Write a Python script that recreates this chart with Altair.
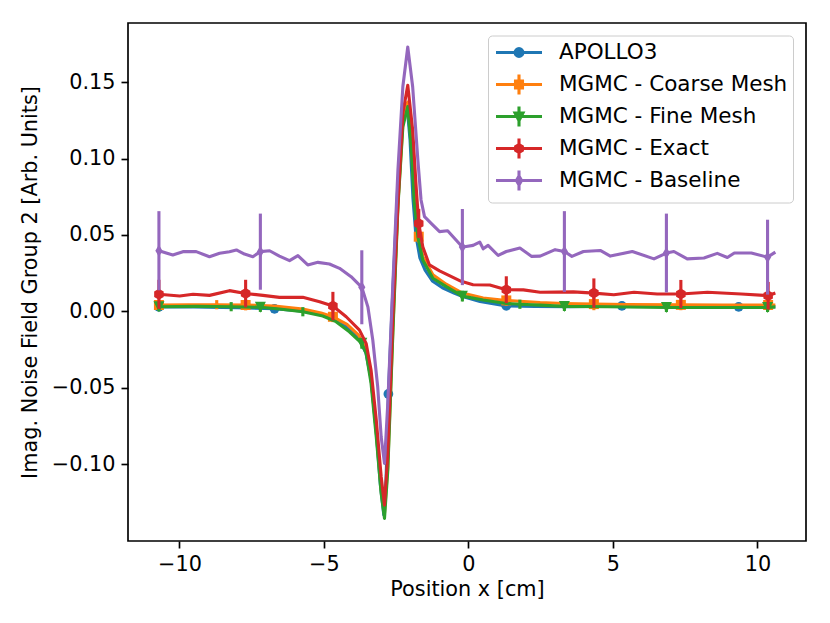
import altair as alt
import pandas as pd

names = ["APOLLO3", "MGMC - Coarse Mesh", "MGMC - Fine Mesh", "MGMC - Exact", "MGMC - Baseline"]
colors = ["#1f77b4", "#ff7f0e", "#2ca02c", "#d62728", "#9467bd"]

# ---- APOLLO3 ----
apollo_x = [-10.71, -9.5, -8.0, -6.71, -5.7, -5.0, -4.5, -4.1, -3.8, -3.55, -3.37, -3.2, -3.05, -2.93,
            -2.85, -2.77, -2.62, -2.45, -2.28, -2.13, -2.02, -1.92, -1.82, -1.68, -1.5, -1.25, -0.9,
            -0.5, -0.2, 0.4, 1.31, 2.3, 3.5, 5.31, 7.0, 9.35, 10.62]
apollo_y = [0.0030, 0.0030, 0.0025, 0.0017, 0.0002, -0.0025, -0.0058, -0.0115, -0.0175, -0.0270,
            -0.0440, -0.0760, -0.1130, -0.1330, -0.1100, -0.0540, 0.0120, 0.0800, 0.1250, 0.1360,
            0.1120, 0.0740, 0.0500, 0.0350, 0.0270, 0.0200, 0.0155, 0.0120, 0.0098, 0.0065, 0.0036,
            0.0033, 0.0031, 0.0036, 0.0031, 0.0030, 0.0030]
apollo_mx = [-10.71, -6.71, -2.77, 1.31, 5.31, 9.35]
apollo_my = [0.0030, 0.0017, -0.0540, 0.0036, 0.0036, 0.0030]

# ---- Coarse mesh ----
coarse_x = [-10.71, -9.7, -8.71, -7.71, -6.71, -5.73, -5.1, -4.69, -4.2, -3.8, -3.54, -3.37, -3.19,
            -3.02, -2.905, -2.79, -2.62, -2.44, -2.27, -2.10, -1.98, -1.87, -1.72, -1.58, -1.23,
            -0.77, -0.21, 0.51, 1.31, 2.48, 3.3, 4.34, 5.5, 7.35, 8.8, 10.37, 10.62]
coarse_y = [0.0042, 0.0043, 0.0044, 0.0042, 0.0035, 0.0015, -0.0010, -0.0035, -0.0085, -0.0155,
            -0.0250, -0.0440, -0.0790, -0.1160, -0.1320, -0.1010, -0.0140, 0.0700, 0.1230, 0.1370,
            0.1120, 0.0760, 0.0489, 0.0360, 0.0240, 0.0178, 0.0120, 0.0088, 0.0072, 0.0058, 0.0052,
            0.0048, 0.0045, 0.0043, 0.0042, 0.0042, 0.0042]
coarse_mx = [-10.71, -7.71, -4.69, -1.72, 1.31, 4.34, 7.35, 10.37]
coarse_my = [0.0042, 0.0042, -0.0035, 0.0489, 0.0072, 0.0048, 0.0043, 0.0042]
coarse_ex = [-10.71, -8.71, -7.71, -4.69, -1.72, 1.31, 4.34, 7.35, 10.37]
coarse_ey = [0.0042, 0.0044, 0.0042, -0.0035, 0.0489, 0.0072, 0.0048, 0.0043, 0.0042]
coarse_ee = [0.0035, 0.0030, 0.0035, 0.0035, 0.0040, 0.0035, 0.0040, 0.0035, 0.0035]

# ---- Fine mesh ----
fine_x = [-10.71, -9.42, -8.21, -7.20, -6.54, -5.73, -5.04, -4.58, -4.12, -3.69, -3.54, -3.37, -3.19,
          -3.02, -2.905, -2.79, -2.62, -2.44, -2.27, -2.10, -1.98, -1.87, -1.75, -1.58, -1.23, -0.77,
          -0.21, 0.51, 1.31, 1.78, 2.48, 3.32, 4.80, 6.85, 8.27, 10.35, 10.62]
fine_y = [0.0031, 0.0033, 0.0031, 0.0027, 0.0016, -0.0002, -0.0030, -0.0067, -0.0133, -0.0209,
          -0.0274, -0.0470, -0.0820, -0.1190, -0.1354, -0.1038, -0.0165, 0.0685, 0.1208, 0.1340,
          0.1077, 0.0707, 0.0489, 0.0336, 0.0217, 0.0162, 0.0100, 0.0075, 0.0052, 0.0047, 0.0041,
          0.0033, 0.0031, 0.0026, 0.0026, 0.0026, 0.0030]
fine_mx = [-10.71, -7.20, -3.69, -0.21, 3.32, 6.85, 10.35]
fine_my = [0.0031, 0.0027, -0.0209, 0.0100, 0.0033, 0.0026, 0.0026]
fine_ex = [-10.71, -8.21, -7.20, -5.73, -3.69, -0.21, 1.78, 3.32, 6.85, 10.35]
fine_ey = [0.0031, 0.0031, 0.0027, -0.0002, -0.0209, 0.0100, 0.0047, 0.0033, 0.0026, 0.0026]
fine_ee = [0.0030, 0.0030, 0.0030, 0.0030, 0.0035, 0.0035, 0.0030, 0.0030, 0.0030, 0.0030]

# ---- Exact ----
exact_x = [-10.71, -9.99, -9.53, -8.96, -8.27, -7.71, -7.11, -6.54, -5.73, -5.15, -4.69, -4.23, -3.77,
           -3.54, -3.37, -3.19, -3.02, -2.905, -2.79, -2.62, -2.44, -2.27, -2.10, -1.93, -1.81, -1.72,
           -1.58, -1.35, -1.00, -0.66, -0.25, 0.16, 0.74, 1.31, 1.90, 2.48, 3.63, 4.34, 5.03, 5.73,
           6.53, 7.35, 8.27, 9.44, 10.37, 10.62]
exact_y = [0.0112, 0.0101, 0.0112, 0.0105, 0.0136, 0.0117, 0.0105, 0.0092, 0.0092, 0.0063, 0.0035,
           -0.0035, -0.0122, -0.0209, -0.0383, -0.0710, -0.1080, -0.1267, -0.0930, -0.0056, 0.0707,
           0.1296, 0.1480, 0.1187, 0.0816, 0.0576, 0.0423, 0.0304, 0.0265, 0.0234, 0.0197, 0.0175,
           0.0173, 0.0142, 0.0141, 0.0125, 0.0128, 0.0120, 0.0109, 0.0125, 0.0114, 0.0114, 0.0125,
           0.0114, 0.0103, 0.0120]
exact_mx = [-10.71, -7.71, -4.69, -1.72, 1.31, 4.34, 7.35, 10.37]
exact_my = [0.0112, 0.0117, 0.0035, 0.0576, 0.0142, 0.0120, 0.0114, 0.0103]
exact_ee = [0.0095, 0.0090, 0.0093, 0.0095, 0.0088, 0.0096, 0.0092, 0.0090]

# ---- Baseline ----
base_x = [-10.71, -10.23, -9.88, -9.42, -8.96, -8.61, -8.27, -8.03, -7.75, -7.46, -7.20, -6.88, -6.54,
          -6.19, -5.90, -5.56, -5.21, -4.81, -4.46, -4.06, -3.69, -3.48, -3.31, -3.14, -3.02, -2.905,
          -2.79, -2.62, -2.44, -2.27, -2.10, -1.93, -1.75, -1.64, -1.52, -1.29, -1.00, -0.72, -0.43,
          -0.21, -0.08, 0.16, 0.39, 0.51, 0.68, 1.03, 1.31, 1.78, 2.19, 2.48, 3.00, 3.32, 3.58, 3.98,
          4.56, 4.91, 5.67, 6.42, 6.85, 7.11, 7.57, 8.15, 8.61, 8.96, 9.20, 9.79, 10.35, 10.62]
base_y = [0.0397, 0.0369, 0.0391, 0.0391, 0.0358, 0.0380, 0.0391, 0.0402, 0.0375, 0.0358, 0.0391,
          0.0397, 0.0362, 0.0332, 0.0365, 0.0304, 0.0321, 0.0310, 0.0282, 0.0227, 0.0158, 0.0030,
          -0.0187, -0.0493, -0.0820, -0.0994, -0.0600, 0.0160, 0.0925, 0.1470, 0.1730, 0.1470,
          0.0990, 0.0729, 0.0620, 0.0576, 0.0522, 0.0528, 0.0467, 0.0421, 0.0425, 0.0432, 0.0454,
          0.0410, 0.0432, 0.0366, 0.0392, 0.0415, 0.0360, 0.0362, 0.0404, 0.0392, 0.0360, 0.0392,
          0.0399, 0.0362, 0.0392, 0.0344, 0.0382, 0.0392, 0.0344, 0.0350, 0.0380, 0.0353, 0.0382,
          0.0382, 0.0355, 0.0388]
base_mx = [-10.71, -7.20, -3.69, -0.21, 3.32, 6.85, 10.35]
base_my = [0.0397, 0.0391, 0.0158, 0.0421, 0.0392, 0.0382, 0.0355]
base_ee = [0.0259, 0.0249, 0.0242, 0.0249, 0.0264, 0.0258, 0.0245]

x_ticks = [-10, -5, 0, 5, 10]
y_ticks = [-0.10, -0.05, 0.00, 0.05, 0.10, 0.15]

FONT = "DejaVu Sans"
FS = 20.8
LW = 3.1

xscale = alt.Scale(domain=[-11.78, 11.68], nice=False, zero=False)
yscale = alt.Scale(domain=[-0.1502, 0.1887], nice=False, zero=False)
xaxis = alt.Axis(values=x_ticks, format="d", title="Position x [cm]", grid=False)
yaxis = alt.Axis(values=y_ticks, format=".2f", title="Imag. Noise Field Group 2 [Arb. Units]", grid=False)


def X(f):
    return alt.X(f, type="quantitative", scale=xscale, axis=xaxis, title="Position x [cm]")


def Y(f):
    return alt.Y(f, type="quantitative", scale=yscale, axis=yaxis,
                 title="Imag. Noise Field Group 2 [Arb. Units]")


marker_shapes = [
    ("circle", 95),
    ("square", 100),
    ("M-1,-1L1,-1L0,1Z", 121),
    ("M0,-1L0.866,-0.5L0.866,0.5L0,1L-0.866,0.5L-0.866,-0.5Z", 121),
    ("M0,-1L0.6,0L0,1L-0.6,0Z", 144),
]

series = [
    (apollo_x, apollo_y, apollo_mx, apollo_my, [], [], []),
    (coarse_x, coarse_y, coarse_mx, coarse_my, coarse_ex, coarse_ey, coarse_ee),
    (fine_x, fine_y, fine_mx, fine_my, fine_ex, fine_ey, fine_ee),
    (exact_x, exact_y, exact_mx, exact_my, exact_mx, exact_my, exact_ee),
    (base_x, base_y, base_mx, base_my, base_mx, base_my, base_ee),
]

layers = []
for i, (lx, ly, mx, my, ex, ey, ee) in enumerate(series):
    c = colors[i]
    ldf = pd.DataFrame({"x": lx, "y": ly})
    layers.append(alt.Chart(ldf).mark_line(color=c, strokeWidth=LW, strokeJoin="round").encode(x=X("x"), y=Y("y")))
    if ex:
        edf = pd.DataFrame({"x": ex, "y": ey, "e": ee})
        edf["lo"] = edf["y"] - edf["e"]
        edf["hi"] = edf["y"] + edf["e"]
        layers.append(alt.Chart(edf).mark_rule(color=c, strokeWidth=LW).encode(
            x=X("x"), y=Y("lo"), y2="hi"))
    mdf = pd.DataFrame({"x": mx, "y": my})
    shp, sz = marker_shapes[i]
    layers.append(alt.Chart(mdf).mark_point(filled=True, color=c, opacity=1, shape=shp, size=sz,
                                            strokeWidth=0).encode(x=X("x"), y=Y("y")))

# legend symbols: line + (error bar) + marker; 1 unit = 10 px (symbolSize 400)
circ = "M0.39,0A0.39,0.39,0,1,1,-0.39,0A0.39,0.39,0,1,1,0.39,0Z"
legend_paths = [
    "M-2.3,0H2.3" + circ,
    "M-2.3,0H2.3M0,-1V1M-0.35,-0.35H0.35V0.35H-0.35Z",
    "M-2.3,0H2.3M0,-1V1M-0.39,-0.34L0.39,-0.34L0,0.42Z",
    "M-2.3,0H2.3M0,-1V1M0,-0.39L0.338,-0.195L0.338,0.195L0,0.39L-0.338,0.195L-0.338,-0.195Z",
    "M-2.3,0H2.3M0,-1V1M0,-0.44L0.26,0L0,0.44L-0.26,0Z",
]

leg = alt.Legend(title=None, orient="none", legendX=360, legendY=12.5, fillColor="rgba(255,255,255,0.8)",
                 strokeColor="#cccccc", cornerRadius=4, padding=5, labelFont=FONT, labelFontSize=21.5,
                 labelColor="black", labelLimit=0, symbolSize=400, symbolStrokeWidth=LW, symbolOpacity=1,
                 symbolOffset=14, labelOffset=28, rowPadding=-2, gridAlign="all")

legdf = pd.DataFrame({"series": names, "x": [m[0] for m in [apollo_mx, coarse_mx, fine_mx, exact_mx, base_mx]],
                      "y": [m[0] for m in [apollo_my, coarse_my, fine_my, exact_my, base_my]]})
legend_layer = alt.Chart(legdf).mark_point(filled=True, opacity=0, strokeWidth=LW).encode(
    x=X("x"), y=Y("y"),
    fill=alt.Fill("series:N", scale=alt.Scale(domain=names, range=colors), legend=leg),
    stroke=alt.Stroke("series:N", scale=alt.Scale(domain=names, range=colors), legend=leg),
    shape=alt.Shape("series:N", scale=alt.Scale(domain=names, range=legend_paths), legend=leg),
)
layers.append(legend_layer)

chart = alt.layer(*layers).properties(
    width=678, height=518,
    autosize=alt.AutoSizeParams(type="none"),
    padding={"left": 120, "top": 15, "right": 15, "bottom": 70},
).configure(font=FONT, background="white").configure_view(
    stroke="black", strokeWidth=1.67
).configure_axis(
    domain=False, ticks=True, tickColor="black", tickWidth=1.67, tickSize=7,
    labelFont=FONT, labelFontSize=FS, labelColor="black", labelPadding=6,
    titleFont=FONT, titleFontSize=FS, titleColor="black", titleFontWeight="normal",
).configure_axisX(titlePadding=6).configure_axisY(titlePadding=11)

chart.save("out.html", embed_options={"renderer": "svg", "actions": False})
